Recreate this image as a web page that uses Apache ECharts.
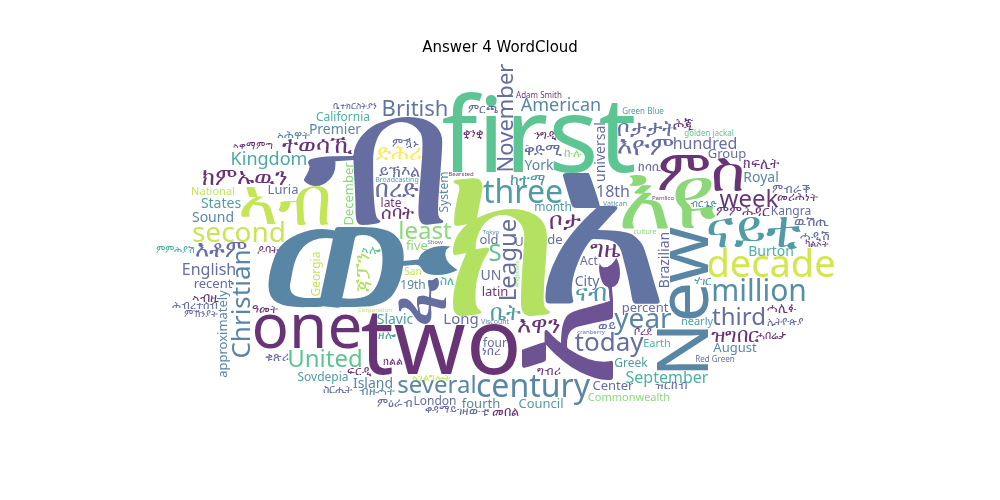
<!DOCTYPE html>
<html>
<head>
<meta charset="utf-8">
<script src="https://cdn.jsdelivr.net/npm/echarts@6/dist/echarts.min.js"></script>
<style>html,body{margin:0;background:#fff}#chart{width:1000px;height:500px}</style>
</head>
<body>
<div id="chart"></div>
<script>
// word list: text, font size (px), vertical flag, colour
const words = [
  ['ክ', 220, 0, '#a0da39'], ['አ', 230, 0, '#3b528b'], ['ው', 210, 0, '#31688e'],
  ['ብ', 190, 0, '#3e4989'], ['ኢ', 160, 1, '#482878'], ['first', 105, 0, '#35b779'],
  ['two', 92, 0, '#440154'], ['እዩ', 90, 0, '#6ece58'], ['ፋ', 80, 1, '#3e4989'],
  ['New', 72, 1, '#31688e'], ['ኣብ', 68, 0, '#b5de2b'], ['one', 62, 0, '#440154'],
  ['ምስ', 58, 0, '#440154'], ['ናይቲ', 52, 0, '#26828e'], ['decade', 38, 0, '#c8e020'],
  ['century', 32, 0, '#31688e'], ['three', 32, 0, '#26828e'], ['million', 30, 0, '#2c728e'],
  ['second', 28, 0, '#bddf26'], ['year', 28, 0, '#31688e'], ['today', 26, 0, '#3e4989'],
  ['Christian', 26, 1, '#31688e'], ['እዮም', 26, 0, '#3e4989'], ['week', 24, 0, '#440154'],
  ['several', 24, 0, '#31688e'], ['least', 24, 0, '#6ece58'], ['United', 24, 0, '#35b779'],
  ['League', 24, 1, '#3e4989'], ['third', 24, 0, '#3e4989'], ['ክምኡዉን', 24, 0, '#440154'],
  ['ተወሳኺ', 24, 0, '#440154'], ['እቶም', 24, 0, '#3e4989'], ['ቦታ', 24, 0, '#440154'],
  ['ናብ', 24, 0, '#26828e'], ['እዋን', 24, 0, '#440154'], ['በረድ', 24, 0, '#3e4989'],
  ['ግዜ', 24, 0, '#440154'], ['S', 24, 0, '#35b779'], ['British', 22, 0, '#3b528b'],
  ['ቦታታት', 22, 0, '#3e4989'], ['ቤት', 22, 0, '#26828e'], ['November', 22, 1, '#3e4989'],
  ['ድሕሪ', 22, 0, '#fde725'], ['ዝግበር', 20, 0, '#440154'], ['ጃፓን', 20, 1, '#a0da39'],
  ['Kingdom', 18, 0, '#21918c'], ['American', 18, 0, '#31688e'], ['ሰባት', 18, 0, '#440154'],
  ['ከተማ', 16, 0, '#26828e'], ['September', 16, 0, '#1f9e89'], ['ይኽእል', 16, 0, '#3e4989'],
  ['hundred', 16, 0, '#3e4989'], ['18th', 16, 0, '#3e4989'], ['English', 16, 0, '#3e4989'],
  ['ቅድሚ', 16, 0, '#3e4989'], ['Long', 15, 0, '#3e4989'], ['Slavic', 14, 0, '#26828e'],
  ['Brazilian', 14, 1, '#3e4989'], ['December', 13, 1, '#6ece58'], ['ምምሕዳር', 14, 0, '#440154'],
  ['Burton', 14, 0, '#1f9e89'], ['Island', 14, 0, '#31688e'], ['Sound', 14, 0, '#31688e'],
  ['States', 14, 0, '#26828e'], ['percent', 13, 0, '#3e4989'], ['August', 13, 0, '#31688e'],
  ['Premier', 14, 0, '#31688e'], ['recent', 13, 0, '#3e4989'], ['universal', 14, 1, '#3e4989'],
  ['City', 14, 0, '#3e4989'], ['York', 14, 0, '#31688e'], ['Royal', 14, 0, '#31688e'],
  ['Center', 13, 0, '#3e4989'], ['month', 12, 0, '#26828e'], ['old', 13, 0, '#3e4989'],
  ['Council', 13, 0, '#26828e'], ['fourth', 13, 0, '#31688e'], ['Group', 13, 0, '#3e4989'],
  ['UN', 14, 0, '#3e4989'], ['London', 12, 0, '#3e4989'], ['latin', 13, 0, '#440154'],
  ['Kangra', 12, 0, '#3e4989'], ['Sovdepia', 12, 0, '#26828e'], ['Luria', 13, 0, '#3e4989'],
  ['five', 13, 0, '#6ece58'], ['19th', 12, 0, '#31688e'], ['System', 12, 1, '#31688e'],
  ['Greek', 12, 0, '#26828e'], ['late', 12, 0, '#440154'], ['U', 13, 0, '#3e4989'],
  ['de', 13, 0, '#3e4989'], ['Act', 12, 0, '#3e4989'], ['approximately', 13, 1, '#31688e'],
  ['Georgia', 12, 1, '#b5de2b'], ['California', 12, 0, '#1f9e89'], ['National', 11, 0, '#b5de2b'],
  ['Earth', 11, 0, '#1f9e89'], ['Commonwealth', 11, 0, '#6ece58'], ['nearly', 11, 0, '#26828e'],
  ['four', 12, 0, '#3e4989'], ['San', 10, 0, '#b5de2b'], ['Vatican', 7, 0, '#26828e'],
  ['Adam Smith', 8, 0, '#440154'], ['golden jackal', 8, 0, '#35b779'], ['Red Green', 8, 0, '#3e4989'],
  ['Green Blue', 8, 0, '#26828e'], ['Broadcasting', 7, 0, '#26828e'], ['Viscount', 7, 0, '#31688e'],
  ['culture', 7, 0, '#6ece58'], ['cranberry', 6, 0, '#3e4989'], ['Tokyo', 6, 0, '#31688e'],
  ['Show', 6, 0, '#3e4989'], ['Bearsted', 6, 0, '#440154'], ['Anglicans', 6, 1, '#6ece58'],
  ['Corporation', 6, 0, '#b5de2b'], ['Pamlico', 6, 0, '#440154'],
  ['ኣሎ', 13, 0, '#35b779'], ['ምዃኑ', 12, 0, '#3e4989'], ['ሃገር', 12, 0, '#26828e'],
  ['ግብሪ', 12, 0, '#440154'], ['ነበረ', 12, 0, '#3e4989'], ['ዓመት', 12, 0, '#440154'],
  ['ከባቢ', 12, 0, '#3e4989'], ['ክፍሊት', 14, 0, '#440154'], ['ምርጫ', 12, 0, '#3e4989'],
  ['ስለ', 12, 0, '#1f9e89'], ['ወይ', 13, 0, '#3e4989'], ['ሓሊፉ', 13, 0, '#440154'],
  ['ኩሉ', 12, 0, '#6ece58'], ['ምብራቕ', 12, 0, '#3e4989'], ['ንግዲ', 12, 0, '#440154'],
  ['ብዙሓት', 12, 0, '#31688e'], ['ዉሽጢ', 14, 0, '#3e4989'], ['መሪሕነት', 12, 0, '#440154'],
  ['ሓዲሽ', 13, 0, '#3e4989'], ['ዘሎ', 12, 0, '#26828e'], ['ኣብዚ', 13, 0, '#440154'],
  ['ኢትዮጵያ', 11, 0, '#3e4989'], ['ቦረደ', 11, 0, '#440154'], ['ቁጽሪ', 12, 0, '#3e4989'],
  ['ሕጂ', 14, 0, '#440154'], ['ኣሕዋት', 12, 0, '#31688e'], ['ዝርከብ', 12, 0, '#3e4989'],
  ['መበል', 13, 0, '#440154'], ['ምዕራብ', 12, 0, '#3e4989'], ['ፍርዲ', 12, 0, '#440154'],
  ['ገዛውቲ', 12, 0, '#3e4989'], ['ሓበሬታ', 11, 0, '#440154'], ['ቀዳማይ', 11, 0, '#3e4989'],
  ['ዶባት', 11, 0, '#440154'], ['ሕብረተሰብ', 11, 0, '#3e4989'], ['ምምሕያሽ', 10, 0, '#1f9e89'],
  ['ኣቀማምጣ', 10, 0, '#440154'], ['ስርሒት', 11, 0, '#3e4989'], ['ቋንቋ', 11, 0, '#440154'],
  ['ምኽንያት', 10, 0, '#3e4989'], ['ኣገልግሎት', 10, 0, '#b5de2b'], ['ክልል', 11, 0, '#440154'],
  ['ቤተክርስትያን', 9, 0, '#3e4989'], ['ካልኦት', 10, 0, '#440154'], ['ብርጌድ', 10, 0, '#31688e']
];

const W = 750, H = 380, CELL = 2;
const GW = Math.ceil(W / CELL), GH = Math.ceil(H / CELL);
const grid = new Uint8Array(GW * GH);
const FONT = "'Noto Sans', 'DejaVu Sans', sans-serif";

// rasterise one word into a list of occupied cells around its centre
function maskOf(text, size, vertical) {
  const c = document.createElement('canvas');
  const ctx = c.getContext('2d');
  ctx.font = size + 'px ' + FONT;
  const tw = Math.ceil(ctx.measureText(text).width) + 4;
  const th = Math.ceil(size * 1.4) + 4;
  const side = Math.max(tw, th);
  c.width = side; c.height = side;
  ctx.font = size + 'px ' + FONT;
  ctx.textAlign = 'center';
  ctx.textBaseline = 'middle';
  ctx.translate(side / 2, side / 2);
  if (vertical) ctx.rotate(-Math.PI / 2);
  ctx.fillText(text, 0, 0);
  const img = ctx.getImageData(0, 0, side, side).data;
  const cells = new Set();
  for (let y = 0; y < side; y++) {
    for (let x = 0; x < side; x++) {
      if (img[(y * side + x) * 4 + 3] > 20) {
        cells.add(Math.floor((x - side / 2) / CELL) + ',' + Math.floor((y - side / 2) / CELL));
      }
    }
  }
  return Array.from(cells).map(s => s.split(',').map(Number));
}

function fits(cells, gx, gy) {
  for (const [dx, dy] of cells) {
    const x = gx + dx, y = gy + dy;
    if (x < 0 || y < 0 || x >= GW || y >= GH) return false;
    if (grid[y * GW + x]) return false;
  }
  return true;
}

const placed = [];
words.forEach(([text, size, vertical, color]) => {
  let s = size;
  for (let attempt = 0; attempt < 4; attempt++) {
    const cells = maskOf(text, s, vertical);
    let done = false;
    for (let t = 0; t < 700; t += 0.05) {
      const r = t * 1.2;
      const gx = Math.round(GW / 2 + r * Math.cos(t) * 2 / CELL);
      const gy = Math.round(GH / 2 + r * Math.sin(t) / CELL);
      if (r > W) break;
      if (fits(cells, gx, gy)) {
        cells.forEach(([dx, dy]) => { grid[(gy + dy) * GW + gx + dx] = 1; });
        placed.push({ value: [gx * CELL, gy * CELL], text, size: s, vertical, color });
        done = true;
        break;
      }
    }
    if (done) break;
    s = Math.max(5, Math.round(s * 0.8));
  }
});

const chart = echarts.init(document.getElementById('chart'));
chart.setOption({
  animation: false,
  title: {
    text: 'Answer 4 WordCloud', left: 'center', top: 36,
    textStyle: { fontFamily: 'DejaVu Sans', fontSize: 15, fontWeight: 'normal', color: '#000' }
  },
  grid: { left: 125, top: 62, width: W, height: H },
  xAxis: { type: 'value', min: 0, max: W, show: false },
  yAxis: { type: 'value', min: 0, max: H, inverse: true, show: false },
  series: [{
    type: 'scatter',
    symbolSize: 1,
    silent: true,
    itemStyle: { color: 'rgba(0,0,0,0)' },
    data: placed.map(p => ({
      value: p.value,
      label: {
        show: true,
        position: 'inside',
        formatter: p.text,
        fontSize: p.size,
        fontFamily: FONT,
        color: p.color,
        rotate: p.vertical ? 90 : 0,
        align: 'center',
        verticalAlign: 'middle'
      }
    }))
  }]
});
</script>
</body>
</html>
